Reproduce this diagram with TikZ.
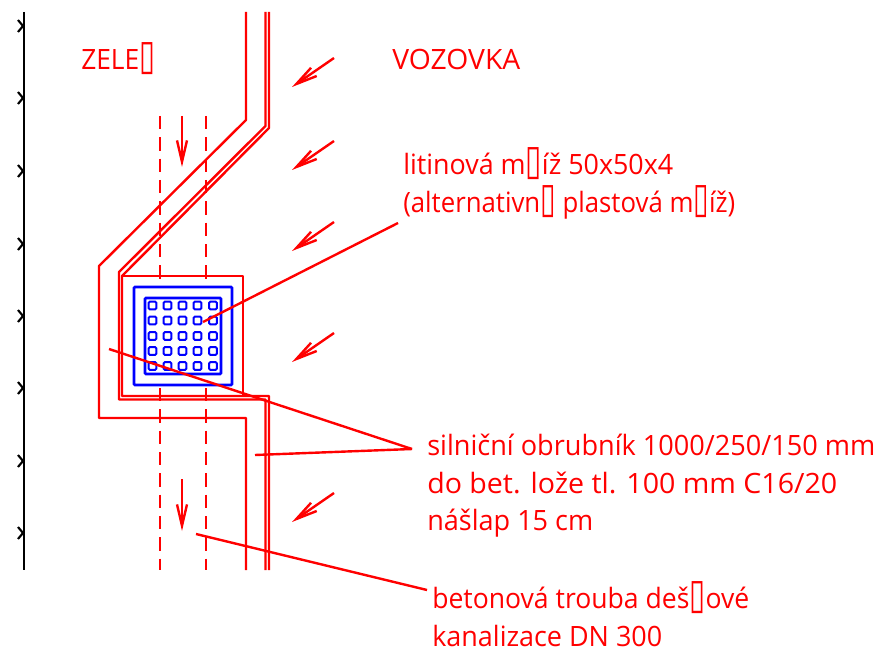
\documentclass[tikz,border=0pt]{standalone}
\usepackage{fontspec}
\usepackage{graphicx}
\usetikzlibrary{arrows.meta}
\setmainfont{Open Sans}
\newfontfamily\boxfont{DejaVu Sans}
\definecolor{cred}{RGB}{255,0,0}
\definecolor{cblue}{RGB}{0,0,255}
\newcommand{\gb}{{\boxfont\scalebox{1.1}[1.5]{▯}}}
\newcommand{\fitw}[2]{\resizebox{#1pt}{\height}{#2}}
\tikzset{
  redline/.style={draw=cred,line width=1.8pt,line join=round},
  blueline/.style={draw=cblue,line width=1.9pt,rounded corners=0.6pt},
  gridcell/.style={draw=cblue,line width=1.5pt,rounded corners=0.8pt},
  blackline/.style={draw=black,line width=1.9pt},
  tick/.style={draw=black,line width=1.6pt},
  dashline/.style={draw=cred,line width=2pt,dash pattern=on 10pt off 6pt},
  flow/.style={draw=cred,line width=1.8pt,-{Straight Barb[length=16pt,width=7.5pt,line width=1.8pt]}},
  leader/.style={draw=cred,line width=1.8pt},
  lbl/.style={text=cred,anchor=base west,inner sep=0pt,font=\fontsize{21pt}{24pt}\selectfont}
}
\begin{document}
\begin{tikzpicture}[x=0.75pt,y=-0.75pt]
\useasboundingbox (0,0) rectangle (880,652);
% left edge
\draw[blackline] (24,12) -- (24,570);
\foreach \y in {26,98,171,244,316,388,461,533}
  \draw[tick] (18,\y-6) -- (23,\y) -- (18,\y+6);
% pipe
\draw[dashline] (160,116) -- (160,287);
\draw[dashline] (206,116) -- (206,287);
\draw[dashline] (160,388) -- (160,570);
\draw[dashline] (206,388) -- (206,570);
% kerb
\draw[redline] (246,12) -- (246,120) -- (99,266) -- (99,418) -- (246,418) -- (246,570);
\draw[redline] (265.5,12) -- (265.5,126) -- (119,272) -- (119,399.5) -- (265.5,399.5) -- (265.5,570);
\draw[redline] (269,12) -- (269,128) -- (122,276) -- (122,396) -- (269,396) -- (269,570);
\draw[redline] (122,276) -- (243,276) -- (243,396);
% grating
\draw[blueline] (134,287) rectangle (232,385);
\draw[blueline] (145,298) rectangle (221,374);
\foreach \x in {152.5,167.5,182.5,197.5,213}
  \foreach \y in {305.5,320.5,336,351,366}
    \draw[gridcell] (\x-3.8,\y-3.8) rectangle (\x+3.8,\y+3.8);
% flow arrows
\coordinate (d1a) at (182,116); \coordinate (d1b) at (182,167);
\coordinate (d2a) at (182,479); \coordinate (d2b) at (182,531);
\draw[flow] (d1a) -- (d1b);
\draw[flow] (d2a) -- (d2b);
\foreach \y in {58,141,222,333,493}
  \draw[flow] (334,\y) -- (292,\y+29);
% labels
\node[lbl] (zelen) at (81,70) {\fitw{55.5}{ZELE\gb}};
\node[lbl] (vozovka) at (392,70) {\fitw{96}{VOZOVKA}};
\node[lbl] (l1) at (403,175) {\fitw{202.5}{litinová m\gb íž 50x50x4}};
\node[lbl] (l2) at (403,213) {\fitw{249}{(alternativn\gb\ plastová m\gb íž)}};
\node[lbl] (k1) at (427,455) {\fitw{336}{silniční obrubník 1000/250/150 mm}};
\node[lbl] (k2) at (427,493) {\fitw{307.5}{do bet. lože tl. 100 mm C16/20}};
\node[lbl] (k3) at (427,530) {\fitw{124.5}{nášlap 15 cm}};
\node[lbl] (b1) at (432,608) {\fitw{237.75}{betonová trouba deš\gb ové}};
\node[lbl] (b2) at (432,646) {\fitw{172.5}{kanalizace DN 300}};
% leaders
\coordinate (t1) at (398,223); \coordinate (e1) at (203,322);
\coordinate (t2) at (412,449); \coordinate (e2) at (109,349); \coordinate (e3) at (255,455);
\coordinate (t3) at (427,590); \coordinate (e4) at (196,534);
\draw[leader] (t1) -- (e1);
\draw[leader] (t2) -- (e2);
\draw[leader] (t2) -- (e3);
\draw[leader] (t3) -- (e4);
\end{tikzpicture}
\end{document}
